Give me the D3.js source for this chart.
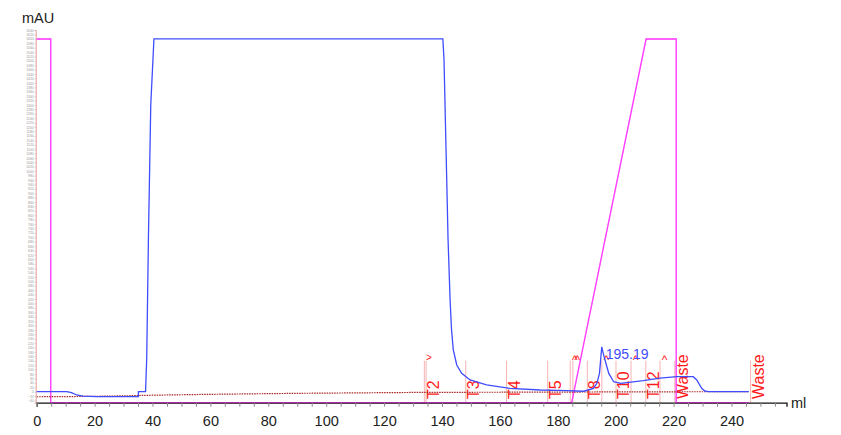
<!DOCTYPE html>
<html>
<head>
<meta charset="utf-8">
<script src="https://cdn.jsdelivr.net/npm/d3@7"></script>
<style>
  body { margin: 0; background: #fff; }
  svg { display: block; font-family: "Liberation Sans", Arial, sans-serif; }
</style>
</head>
<body>
<div id="chart"></div>
<script>
// UV 280 trace (ml, mAU)
const uvMl  = [0, 10.4, 12.0, 13.8, 16.0, 20.7, 35.1, 35.15, 37.6, 38.0, 38.6, 39.4, 40.5,
               140.3, 140.7, 141.4, 142.1, 142.8, 143.3, 143.9, 145.1, 146.8, 149.7, 155.4,
               163.5, 173.9, 183.1, 189.0, 192.3, 193.5, 194.4, 194.9, 195.19, 195.8, 196.6,
               197.6, 199.3, 201.8, 209.5, 215.3, 221.1, 226.8, 228.0, 229.7, 230.8, 232.0, 246.0];
const uvMau = [0, 0, -4, -15, -20, -22.7, -22.7, 0, 0, 150, 700, 1300, 1600,
               1600, 1504, 1096, 688, 415, 280, 189, 121, 83, 53, 31,
               15, 7.6, 4.4, 2, 15, 38, 83, 160, 203, 168, 130,
               83, 45, 38, 50, 61, 68, 68, 53, 15, 3, 0.5, 0];

// Conc B trace (ml, %)
const concMl  = [0, 4.85, 4.85, 184.8, 210.5, 220.9, 220.9, 246.0];
const concPct = [100, 100, 0, 0, 100, 100, 0, 0];

// dotted trace (ml, same units as mAU axis)
const condMl  = [0, 10, 20, 30, 40, 50, 60, 70, 80, 90, 100, 110, 120, 130, 140, 160, 180, 200, 220, 246];
const condVal = [-23, -22.5, -21, -19, -16, -14, -12, -10.5, -9, -7.5, -6.5, -5.5, -4.5, -3.5, -3, -2.5, -2, -1, -0.5, 0];

// fractions
const fracNames = ['T1', 'T2', 'T3', 'T4', 'T5', 'T6', 'T7', 'T8', 'T9', 'T10', 'T11', 'T12', 'T13', 'Waste', 'Waste'];
const fracMl    = [133.9, 134.5, 148.2, 162.3, 176.5, 184.3, 185.2, 190.2, 195.2, 200.1, 205.3, 210.4, 215.3, 220.4, 246.6];
const fracHidden = ['T1', 'T6', 'T7', 'T9', 'T11', 'T13'];

const peakMl = 195.19;
const xTicks = d3.range(0, 256, 5);
const xLabels = d3.range(0, 241, 20);
const yTicks = d3.range(-40, 1641, 20);

const width = 841, height = 435;

const svg = d3.select('#chart')
  .append('svg')
    .attr('width', width)
    .attr('height', height);

const x = d3.scaleLinear()
    .domain([0, 259])
    .range([36.7, 786.5]);

const y = d3.scaleLinear()
    .domain([-50, 1640])
    .range([402.7, 30]);

const yPct = d3.scaleLinear()
    .domain([0, 100])
    .range([402.7, 39]);

// y axis (very dense, tiny labels)
svg.append('g')
    .attr('transform', `translate(${x(0) - 1},0)`)
    .call(d3.axisLeft(y).tickValues(yTicks).tickSize(1).tickPadding(1).tickFormat(d3.format('d')))
    .call(g => g.select('.domain').attr('stroke', '#e89a9a'))
    .call(g => g.selectAll('.tick line').attr('stroke', '#bbb'))
    .call(g => g.selectAll('.tick text').attr('font-size', 3.4).attr('fill', '#999'));

// fraction lines
const frac = fracNames.map((d, i) => ({name: d, ml: fracMl[i], hidden: fracHidden.includes(d)}));

svg.append('g')
  .selectAll('line')
  .data(frac)
  .join('line')
    .attr('x1', d => x(d.ml))
    .attr('x2', d => x(d.ml))
    .attr('y1', 360.7)
    .attr('y2', y(-50))
    .attr('stroke', '#f7b4b4')
    .attr('stroke-width', 1);

// fraction labels
svg.append('g')
  .selectAll('text')
  .data(frac.filter(d => !d.hidden))
  .join('text')
    .attr('transform', d => `translate(${x(d.ml) + 13},399) rotate(-90)`)
    .attr('font-size', 16)
    .attr('fill', '#ff1a1a')
    .text(d => d.name);

// markers for unlabelled fractions
svg.append('g')
  .selectAll('text')
  .data(frac.filter(d => d.hidden))
  .join('text')
    .attr('x', d => x(d.ml) + 4.5)
    .attr('y', (d, i) => i === 0 ? 361 : 364)
    .attr('text-anchor', 'middle')
    .attr('font-size', d => d.name === 'T1' ? 10 : 12)
    .attr('fill', '#ff1a1a')
    .text(d => d.name === 'T1' ? '>' : '^');

// conc B under the axis
const concLine = d3.line()
    .x((d, i) => x(concMl[i]))
    .y(d => yPct(d));

svg.append('path')
    .datum(concPct)
    .attr('fill', 'none')
    .attr('stroke', '#ff3cff')
    .attr('stroke-width', 1.3)
    .attr('d', concLine);

// x axis
svg.append('g')
    .attr('transform', `translate(0,${y(-50)})`)
    .call(d3.axisBottom(x).tickValues(xTicks).tickSize(4).tickPadding(9)
      .tickFormat(d => xLabels.includes(d) ? d : ''))
    .call(g => g.select('.domain').attr('stroke', '#111').attr('stroke-width', 1.3))
    .call(g => g.selectAll('.tick line').attr('stroke', '#888'))
    .call(g => g.selectAll('.tick text').attr('font-size', 14.5).attr('fill', '#222')
      .attr('font-family', '"Liberation Sans", Arial, sans-serif'));

// conc B again, faint, to tint the axis purple
svg.append('path')
    .datum(concPct)
    .attr('fill', 'none')
    .attr('stroke', '#ff3cff')
    .attr('stroke-opacity', 0.3)
    .attr('stroke-width', 1.3)
    .attr('d', concLine);

// dotted trace
svg.append('path')
    .datum(condVal)
    .attr('fill', 'none')
    .attr('stroke', '#a82424')
    .attr('stroke-width', 1.2)
    .attr('stroke-dasharray', '1.5,1')
    .attr('d', d3.line().x((d, i) => x(condMl[i])).y(d => y(d)));

// UV trace
svg.append('path')
    .datum(uvMau)
    .attr('fill', 'none')
    .attr('stroke', '#3f4dff')
    .attr('stroke-width', 1.3)
    .attr('d', d3.line().x((d, i) => x(uvMl[i])).y(d => y(d)));

// peak label
const peakVal = uvMau[uvMl.indexOf(peakMl)];
svg.append('text')
    .attr('x', x(peakMl) + 4)
    .attr('y', y(peakVal) + 12)
    .attr('font-size', 14)
    .attr('fill', '#3f4dff')
    .text(peakMl.toFixed(2));

// axis titles
svg.append('text')
    .attr('x', 22)
    .attr('y', 23.3)
    .attr('font-size', 14.5)
    .attr('fill', '#222')
    .text('mAU');

svg.append('text')
    .attr('x', 791)
    .attr('y', 408)
    .attr('font-size', 14.5)
    .attr('fill', '#222')
    .text('ml');
</script>
</body>
</html>
